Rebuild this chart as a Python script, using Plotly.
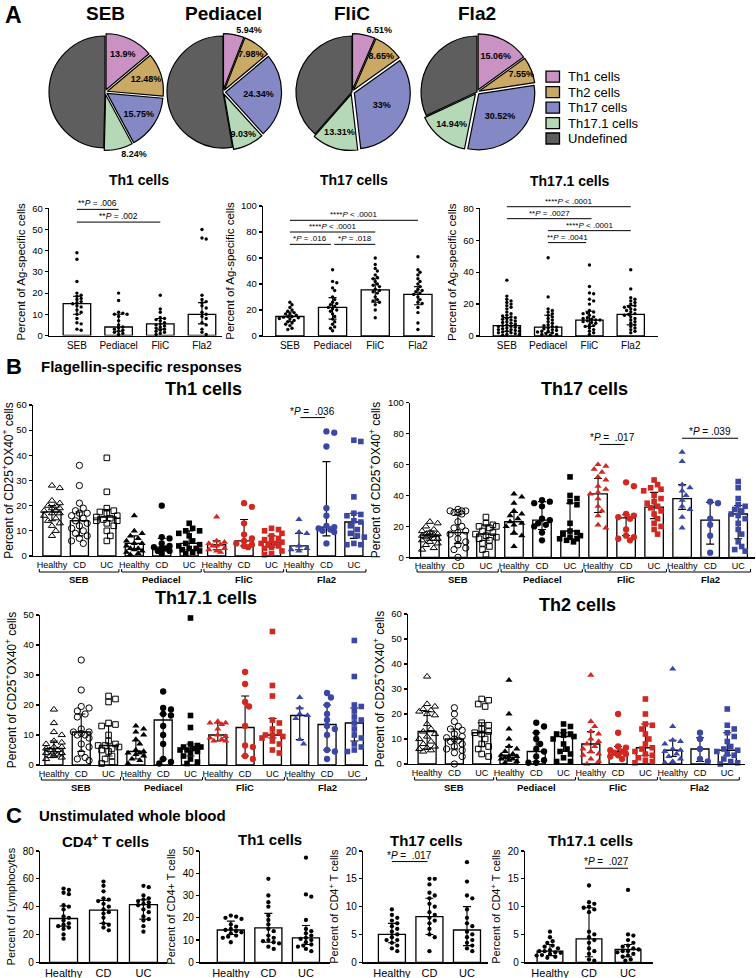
import numpy as np
import plotly.graph_objects as go

W, H = 756, 978
FONT = "Liberation Sans, Arial, Helvetica, sans-serif"

# ======================= DATA =======================
pie_stimuli = ["SEB", "Pediacel", "FliC", "Fla2"]
pie_subsets = ["Th1 cells", "Th2 cells", "Th17 cells", "Th17.1 cells", "Undefined"]
pie_seb = [13.9, 12.48, 15.75, 8.24, 49.63]
pie_pediacel = [5.94, 7.98, 24.34, 9.03, 52.71]
pie_flic = [6.51, 8.65, 33.0, 13.31, 38.53]
pie_fla2 = [15.06, 7.55, 30.52, 14.94, 31.93]
pie_text_seb = ["13.9%", "12.48%", "15.75%", "8.24%", ""]
pie_text_pediacel = ["5.94%", "7.98%", "24.34%", "9.03%", ""]
pie_text_flic = ["6.51%", "8.65%", "33%", "13.31%", ""]
pie_text_fla2 = ["15.06%", "7.55%", "30.52%", "14.94%", ""]

a_categories = ["SEB", "Pediacel", "FliC", "Fla2"]
a_th1_values = [
    [39, 36, 25.5, 20, 19, 18.5, 17.5, 17, 16, 15.5, 15, 14, 13.5, 12, 11, 10, 8, 6, 5.5, 3, 2.5],
    [20, 16.5, 11, 10.5, 10, 10, 9, 7, 5, 4, 3.5, 3, 2.5, 2, 1.5, 1, 0.5],
    [19, 12.5, 11, 8.5, 8, 7.5, 7, 6, 5.5, 5, 4.5, 4, 3.5, 3, 2.5, 2, 1.5, 1, 0.5],
    [50, 46, 45.5, 19, 17, 16, 15.5, 14, 13, 11, 10, 9, 8, 6, 5, 3, 1.5, 0.5],
]
a_th1_median = [15, 4, 5.5, 10]
a_th1_q1 = [10, 2, 3, 5.5]
a_th1_q3 = [18.5, 10, 8, 15.5]

a_th17_values = [
    [26, 24, 22, 20, 19, 18, 17, 17, 16, 15, 15, 14.5, 14, 13.5, 13, 12, 11, 10, 9, 8, 6, 5],
    [51, 42, 41, 37, 35, 30, 28, 26, 25, 24, 23, 22, 21, 20, 19, 17, 15, 13, 11, 9, 7, 6, 4],
    [60, 55, 52, 50, 47, 45, 44, 42, 40, 39, 38, 36, 35, 34, 33, 30, 28, 27, 26, 24, 20, 14],
    [61, 51, 49, 47, 44, 42, 40, 38, 36, 35, 34, 33, 32, 30, 28, 26, 25, 22, 18, 10, 5],
]
a_th17_median = [15, 22, 35.5, 32]
a_th17_q1 = [11, 13, 26, 24]
a_th17_q3 = [18.5, 29.5, 44, 38]

a_th171_values = [
    [35, 25, 23, 22, 21, 20, 19, 18, 17, 15, 14, 13, 12.5, 12, 11.5, 11, 10.5, 10, 9.5, 9, 8.5, 8,
     7.5, 7, 6.5, 6, 6, 5.5, 5, 5, 4.5, 4, 4, 3.5, 3, 3, 2.5, 2, 2, 1.5, 1, 1, 0.5],
    [49, 24.5, 17, 16, 15, 14, 13, 12, 11, 10, 9, 8, 7, 6.5, 6, 5.5, 5, 4.5, 4, 3.5, 3, 3, 2.5, 2,
     1.5, 1, 1, 0.5],
    [44.5, 31, 27, 26.5, 23, 22, 20, 16, 15, 14.5, 14, 13, 12, 11.5, 11, 10.5, 10, 10, 9.5, 9, 8.5,
     8, 7, 6.5, 6, 5, 4, 3, 2, 1],
    [41.5, 29.5, 24, 23, 22, 21, 20, 19, 18.5, 18, 17, 16.5, 16, 15, 14, 13.5, 13, 12, 11, 10, 9, 8,
     7, 6, 5, 4, 3, 2],
]
a_th171_median = [6.5, 5.5, 10, 13.5]
a_th171_q1 = [3, 2, 6, 7]
a_th171_q3 = [11.5, 13, 15.5, 19]

b_groups = ["Healthy", "CD", "UC"]
b_stimuli = ["SEB", "Pediacel", "FliC", "Fla2"]

b_th1_values = [
    [28, 27, 22, 21, 20, 20, 19, 19, 18, 18, 17, 17, 16, 15, 14, 13, 12, 10, 8],
    [36, 28, 21, 19, 18, 17, 17, 16, 15, 14, 13, 12, 11, 10, 9, 8, 7, 6, 5],
    [39, 25.5, 19, 18, 17.5, 17, 16, 15.5, 15, 14.5, 14, 14, 13, 12, 10, 8, 6],
    [16, 10, 9, 8, 7, 6, 5, 5, 4, 3, 3, 2.5, 2, 1.5, 1, 0.5],
    [20, 7.5, 7, 5, 4, 3.5, 3, 3, 2, 2, 1],
    [13, 11, 10, 10, 9, 8, 6, 5, 4.5, 4, 3, 3, 2.5, 2, 1.5, 1],
    [15.5, 6, 5.5, 5, 4.5, 4, 4, 3, 2.5, 2, 1.5],
    [21, 19.5, 13, 8.5, 7, 6, 5, 4.5, 4, 3.5],
    [11, 10.5, 10, 9, 8, 7, 6.5, 6, 5.5, 5, 5, 4.5, 4, 3.5, 3, 2, 1, 0.5],
    [14.5, 9.5, 9, 4, 3, 2.5, 2],
    [49.5, 49, 43.5, 19, 16, 12, 11.5, 11, 10.5, 10, 9.5, 5],
    [46, 45.5, 23.5, 17, 16.5, 16, 14, 13.5, 12, 10.5, 9, 8, 7.5, 5, 4.5, 4.5],
]
b_th1_median = [17.5, 14, 15.5, 5, 3.5, 5, 4.5, 6, 5.5, 4, 11.5, 13.5]
b_th1_q1 = [14, 8, 14, 2.5, 2, 2.5, 2.5, 4, 3.5, 2.5, 8, 7]
b_th1_q3 = [20, 17.5, 18.5, 8, 7, 10, 6, 14.5, 8, 9, 37.5, 17]

b_th17_values = [
    [23, 22, 20, 18, 17, 16, 15, 15, 14.5, 14, 14, 13, 12, 12, 11, 10, 9, 8, 6, 5],
    [31, 30, 30, 30, 29, 29, 28, 23, 20, 19, 17, 16, 15, 12, 10, 8, 6, 5, 0],
    [26, 22, 21, 20, 20, 19, 17, 16, 15, 14, 13, 12, 11, 9, 7, 5, 2],
    [41, 39, 35, 30, 28, 27, 25, 23, 22, 21, 20, 16, 14, 7],
    [37, 36, 35, 33, 25, 24, 22, 21, 20, 16, 11],
    [52, 40, 38, 36, 34, 22, 17, 16, 15, 14, 13, 12, 12, 11, 10],
    [60, 59, 57, 55, 52, 50, 46, 44, 42, 41, 38, 33, 30, 27, 21, 19],
    [48.5, 46, 28, 27, 26, 25, 18, 14, 13, 12, 11],
    [50, 47, 45, 44, 43, 40, 38, 36, 35, 33, 32, 30, 28, 25, 22, 20, 18, 15],
    [68, 62, 47, 45, 43, 40, 37, 33, 31, 26, 19],
    [36, 35, 25, 21, 14, 3],
    [49, 45, 38, 34, 33, 31, 30, 28, 27, 25, 22, 18, 15, 10, 7, 5, 4],
]
b_th17_median = [14.5, 16, 15, 23, 24, 17, 41, 25.5, 32.5, 38, 24, 28]
b_th17_q1 = [11, 9, 11, 15, 18, 12, 29, 14, 25, 31, 8.5, 12]
b_th17_q3 = [17, 27.5, 21, 29, 36, 35, 51, 27.5, 42, 47, 35.5, 33.5]

b_th171_values = [
    [18.5, 14, 11, 10, 8, 7.5, 7, 6, 6, 5.5, 5, 5, 4.5, 4, 4, 3.5, 3, 3, 2.5, 2],
    [35, 25, 19.5, 19, 18, 17, 16, 12, 11, 11, 10.5, 10, 10, 9, 7, 6, 4, 2.5, 2, 1.5],
    [23, 22, 21, 14, 13.5, 13, 10, 8, 7, 6.5, 6.5, 6, 5.5, 5, 4.5, 3, 2, 1, 0.5],
    [13, 12, 11, 10, 8.5, 7, 5, 4.5, 4, 4, 3.5, 3, 2, 1.5, 0.5],
    [24.5, 19, 18.5, 17, 16.5, 13, 10, 7, 2, 1, 0.5],
    [49, 16.5, 12.5, 7, 6.5, 6, 6, 5.5, 5, 5, 4.5, 4, 3, 2, 1, 0.5],
    [14.5, 14, 14, 13.5, 12, 10, 9.5, 9, 8.5, 8, 8],
    [31, 27, 21, 19.5, 13, 6.5, 6, 3, 2],
    [44.5, 26.5, 23, 15, 14, 12, 11, 10, 10, 9.5, 9, 8, 7, 5, 4],
    [22.5, 19, 17, 16.5, 15.5, 8.5, 7],
    [24, 22.5, 20, 17, 15, 13, 12, 10, 5, 4.5, 2],
    [41.5, 29.5, 20, 19.5, 18, 16, 15, 14, 12, 10, 9, 7, 6, 5, 4.5],
]
b_th171_median = [5.5, 11, 6.5, 4.5, 15, 5.5, 10, 12.5, 10, 16.5, 13.5, 14]
b_th171_q1 = [3, 4.5, 3, 2, 2, 3, 8, 3, 9, 8.5, 5, 8]
b_th171_q3 = [8, 17, 13, 8, 17, 7, 14, 23, 15.5, 19, 20, 19]

b_th2_values = [
    [35, 24, 23, 22, 21.5, 21, 20, 19.5, 16, 14, 13, 12, 11, 10, 9, 8, 7, 6.5, 6, 5.5, 5],
    [22.5, 20, 17, 15, 14, 13.5, 12, 11, 10.5, 10, 9.5, 9, 8, 7, 6, 5.5, 4.5, 3, 0],
    [26, 25.5, 24, 23, 16.5, 15.5, 14, 13, 12.5, 12, 10, 8, 7, 6, 4, 3],
    [33.5, 20, 14, 10, 7, 6, 5, 4, 3.5, 3, 3, 2.5, 2, 2, 1.5, 1, 0.5],
    [16.5, 15, 12.5, 10, 8, 6, 5, 3, 1.5, 0.5, 0.5],
    [16, 15, 13, 12, 12, 11.5, 11, 10, 8, 6, 5, 4, 2.5, 1, 1],
    [35.5, 17, 15, 13, 12, 10, 9, 8, 7, 6, 5, 4, 3.5, 2, 1, 0],
    [20, 12.5, 7, 6.5, 5.5, 5, 4.5, 4, 3.5, 3, 2],
    [26, 20, 16, 15.5, 14, 12, 10, 8, 6.5, 6, 5, 4, 3.5, 2.5, 1.5, 1, 0.5],
    [38, 15, 9.5, 9, 8, 6, 5.5, 5, 4, 3, 2, 1, 0.5],
    [12.5, 10, 6, 2, 1],
    [22, 15.5, 14, 12.5, 11, 9, 7, 6, 5.5, 5, 4, 3.5, 2, 1, 0.5, 0],
]
b_th2_median = [13, 10, 12.5, 3.5, 5, 11, 8, 5, 6.5, 5.5, 6, 5.5]
b_th2_q1 = [6, 6, 7, 2, 1, 5, 4.5, 4, 3.5, 3, 1, 3.5]
b_th2_q3 = [21, 14, 16.5, 7, 12.5, 12.5, 13, 7, 16, 9.5, 10.5, 12.5]

c_groups = ["Healthy", "CD", "UC"]
c_cd4_values = [
    [53, 52, 50, 49, 41, 40, 38, 33, 32, 30, 28, 27, 26, 25, 24, 20, 17],
    [58, 55, 51, 46, 45, 44, 42, 40, 38, 36, 35, 32, 28, 27, 25, 23],
    [55, 54, 48, 46, 45, 44, 43, 42, 41, 40, 38, 36, 33, 31, 30, 26, 22],
]
c_cd4_median = [31.5, 37.5, 41.5]
c_cd4_q1 = [26, 28, 31]
c_cd4_q3 = [40.5, 44.5, 45]

c_th1_values = [
    [21, 20.5, 20, 19.5, 17, 16, 15, 14.5, 14, 13.5, 13, 12, 11.5, 11, 9],
    [37.5, 30, 27, 25, 21, 19, 17, 15, 14, 12, 11, 10, 9.5, 9, 8.5, 7, 6],
    [47, 30.5, 29.5, 19, 15, 14, 13, 12, 11, 10.5, 10, 9, 8, 7.5, 7, 6, 5],
]
c_th1_median = [14.5, 15.5, 11]
c_th1_q1 = [12.5, 9, 8]
c_th1_q3 = [18.5, 22, 16.5]

c_th17_values = [
    [9.5, 8.5, 8, 7.5, 7, 6.5, 6, 5.5, 5, 4.5, 4, 4, 3.5, 3, 2.5, 2],
    [15, 15, 14, 12.5, 12, 11.5, 10.5, 10, 9, 8.5, 8, 7.5, 7, 6, 5, 4.5, 2],
    [18, 14.5, 12, 11.5, 9.5, 8, 7, 6.5, 5.5, 5, 4.5, 4, 3.5, 3, 2.5, 2],
]
c_th17_median = [5, 8.2, 5.8]
c_th17_q1 = [3.5, 5, 3]
c_th17_q3 = [7, 11.5, 10]

c_th171_values = [
    [5.5, 4.5, 3.8, 3.5, 3, 2.8, 2.5, 2.2, 2, 2, 1.8, 1.7, 1.5, 1.3, 1.2, 1, 0.8],
    [13.8, 10.8, 10.5, 10, 9.8, 9.5, 9, 5.5, 5, 4.5, 4, 3.5, 2.5, 2, 1.5, 0.5, 0.3],
    [13, 5, 4.8, 4, 3.5, 3, 2.8, 2.5, 2.3, 2, 2, 1.8, 1.5, 1.2, 1, 0.5, 0.3],
]
c_th171_median = [2, 4.2, 2.3]
c_th171_q1 = [1.2, 1, 1]
c_th171_q3 = [3.2, 9.8, 3.2]

# ======================= STYLE / LAYOUT =======================
pie_colors = ["#C992C3", "#C9A964", "#8489C5", "#B5D9B7", "#5E5E5E"]
RED = "#D3271F"
BLUE = "#3A47A6"

fig = go.Figure()
annotations = []
shapes = []
axes = {}


def ax_names(n):
    if n == 1:
        return "x", "y", "xaxis", "yaxis"
    return f"x{n}", f"y{n}", f"xaxis{n}", f"yaxis{n}"


def py(p):
    return 1 - p / H


def swarm(vals, center, ppu_y, ppu_x, msize, halfw):
    vals = np.asarray(vals, dtype=float)
    order = np.argsort(-vals, kind="stable")
    step = msize * 0.62
    cands = [0.0]
    for k in range(1, 40):
        cands += [k * step, -k * step]
    cands = [c for c in cands if abs(c) <= halfw]
    placed = []
    off = np.zeros(len(vals))
    mind = msize * 0.92
    for i in order:
        yp = vals[i] * ppu_y
        best, bestd, best2 = None, -1, 0.0
        for c in cands:
            d = min([np.hypot(c - a, yp - b) for a, b in placed] + [1e9])
            if d >= mind:
                best = c
                break
            if d > bestd:
                bestd, best2 = d, c
        if best is None:
            best = best2
        placed.append((best, yp))
        off[i] = best
    return center + off / ppu_x


def tick_style(size):
    return dict(size=size, family=FONT, color="black")


panels = {}


def add_panel(n, xdom, ydom, xrange, yrange, dtick, ytitle, ytitle_size, tick_size,
              xtick_size, centers, ticktext, values, med, q1, q3, bar_w, styles,
              halfw, err_w):
    xr, yr, xk, yk = ax_names(n)
    axes[xk] = dict(domain=[xdom[0] / W, xdom[1] / W], range=xrange, anchor=yr,
                    showline=True, linecolor="black", linewidth=1.2, ticks="",
                    tickvals=centers, ticktext=ticktext, tickfont=tick_style(xtick_size),
                    showgrid=False, zeroline=False, fixedrange=True, automargin=False)
    axes[yk] = dict(domain=[py(ydom[1]), py(ydom[0])], range=yrange, anchor=xr,
                    showline=True, linecolor="black", linewidth=1.2, ticks="outside",
                    ticklen=3, tickwidth=1.2, tickcolor="black", tick0=0, dtick=dtick,
                    tickfont=tick_style(tick_size), showgrid=False, zeroline=False,
                    title=dict(text=ytitle, font=dict(size=ytitle_size, family=FONT,
                                                      color="black"), standoff=4),
                    fixedrange=True, automargin=False)
    ppu_y = (ydom[1] - ydom[0]) / (yrange[1] - yrange[0])
    ppu_x = (xdom[1] - xdom[0]) / (xrange[1] - xrange[0])
    panels[n] = dict(xr=xr, ydom=ydom, yrange=yrange, ppu_y=ppu_y)
    med = np.asarray(med, float)
    fig.add_trace(go.Bar(
        x=centers, y=med, width=bar_w, xaxis=xr, yaxis=yr, showlegend=False,
        marker=dict(color="white", line=dict(color="black", width=1.3)),
        error_y=dict(type="data", symmetric=False, array=np.asarray(q3) - med,
                     arrayminus=med - np.asarray(q1), color="black", thickness=1.1,
                     width=err_w),
        hoverinfo="skip"))
    for i, vals in enumerate(values):
        st = styles[i]
        xs = swarm(vals, centers[i], ppu_y, ppu_x, st["size"], halfw)
        fig.add_trace(go.Scatter(
            x=xs, y=vals, mode="markers", xaxis=xr, yaxis=yr, showlegend=False,
            cliponaxis=False, hoverinfo="skip",
            marker=dict(symbol=st["symbol"], size=st["size"], color=st["color"],
                        line=dict(width=st.get("lw", 0), color=st["color"]))))


def val_to_px(n, v):
    p = panels[n]
    return p["ydom"][1] - (v - p["yrange"][0]) * p["ppu_y"]


def add_sig(n, x0, x1, v, text, fsize):
    p = panels[n]
    yy = py(val_to_px(n, v))
    shapes.append(dict(type="line", xref=p["xr"], yref="paper", x0=x0, x1=x1, y0=yy, y1=yy,
                       line=dict(color="black", width=1)))
    annotations.append(dict(xref=p["xr"], yref="paper", x=(x0 + x1) / 2, y=yy, text=text,
                            showarrow=False, xanchor="center", yanchor="bottom", yshift=-1,
                            font=dict(size=fsize, family=FONT, color="black")))


def add_brackets(n, ypx, label_ypx):
    p = panels[n]
    for g, name in enumerate(b_stimuli):
        xa, xb = 3 * g - 0.46, 3 * g + 2.44
        y0 = py(ypx)
        y1 = py(ypx - 3)
        shapes.append(dict(type="path", xref=p["xr"], yref="paper",
                           path=f"M {xa},{y1} L {xa},{y0} L {xb},{y0} L {xb},{y1}",
                           line=dict(color="black", width=1)))
        annotations.append(dict(xref=p["xr"], yref="paper", x=3 * g + 1, y=py(label_ypx),
                                text=f"<b>{name}</b>", showarrow=False, yanchor="middle",
                                font=dict(size=9.5, family=FONT, color="black")))


def text(x, y, t, size, anchor="center"):
    annotations.append(dict(xref="paper", yref="paper", x=x / W, y=py(y), text=t,
                            showarrow=False, xanchor=anchor, yanchor="middle",
                            font=dict(size=size, family=FONT, color="black")))


# ---------------- Pies ----------------
pie_vals = [pie_seb, pie_pediacel, pie_flic, pie_fla2]
pie_texts = [pie_text_seb, pie_text_pediacel, pie_text_flic, pie_text_fla2]
pie_pos = [["inside", "inside", "inside", "outside", "none"],
           ["outside", "inside", "inside", "inside", "none"],
           ["outside", "inside", "inside", "inside", "none"],
           ["inside", "inside", "inside", "inside", "none"]]
pie_cx = [105, 223, 352, 477]
pie_cy = 92
half = 58.5
for i in range(4):
    fig.add_trace(go.Pie(
        values=pie_vals[i], labels=pie_subsets, text=pie_texts[i], textinfo="text",
        textposition=pie_pos[i], sort=False, direction="clockwise", rotation=0,
        pull=[0.045, 0.045, 0.045, 0.045, 0],
        marker=dict(colors=pie_colors, line=dict(color="black", width=1.2)),
        textfont=dict(size=9, family=FONT, color="black", weight="bold"),
        insidetextorientation="horizontal", showlegend=False, hoverinfo="skip",
        domain=dict(x=[(pie_cx[i] - half) / W, (pie_cx[i] + half) / W],
                    y=[py(pie_cy + half), py(pie_cy - half)])))
    text(pie_cx[i], 14, f"<b>{pie_stimuli[i]}</b>", 19)

# key for the pie subsets (boxes + labels)
legend_y = [76.7, 92.2, 107.7, 123.2, 138.5]
for k, name in enumerate(pie_subsets):
    shapes.append(dict(type="rect", xref="paper", yref="paper",
                       x0=546 / W, x1=559.5 / W, y0=py(legend_y[k] + 5.5),
                       y1=py(legend_y[k] - 5.5), fillcolor=pie_colors[k],
                       line=dict(color="black", width=1.3)))
    text(566, legend_y[k], name, 13, anchor="left")

# ---------------- Panel A bar plots ----------------
a_style = [dict(symbol="circle", size=3.4, color="black")] * 4
a_centers = [0, 1, 2, 3]
add_panel(1, (49, 222), (208.3, 335.5), [-0.67, 3.48], [0, 60], 10,
          "Percent of Ag-specific cells", 11.5, 9.5, 10, a_centers, a_categories,
          a_th1_values, a_th1_median, a_th1_q1, a_th1_q3, 0.66, a_style, 12, 4)
add_panel(2, (263, 435), (206, 336), [-0.63, 3.4], [0, 100], 20,
          "Percent of Ag-specific cells", 11.5, 9.5, 10, a_centers, a_categories,
          a_th17_values, a_th17_median, a_th17_q1, a_th17_q3, 0.66, a_style, 12, 4)
add_panel(3, (480, 658), (208.3, 336), [-0.65, 3.66], [0, 80], 20,
          "Percent of Ag-specific cells", 11.5, 9.5, 10, a_centers, a_categories,
          a_th171_values, a_th171_median, a_th171_q1, a_th171_q3, 0.66, a_style, 13, 4)

add_sig(1, 0, 1, 59.5, "**<i>P</i> = .006", 8.5)
add_sig(1, 0, 2, 53.5, "**<i>P</i> = .002", 8.5)
add_sig(2, 0, 3, 89, "****<i>P</i> < .0001", 8)
add_sig(2, 0, 2, 80, "****<i>P</i> < .0001", 8)
add_sig(2, 0, 0.96, 70.5, "*<i>P</i> = .016", 8)
add_sig(2, 1.04, 2, 70.5, "*<i>P</i> = .018", 8)
add_sig(3, 0, 3, 81, "****<i>P</i> < .0001", 8)
add_sig(3, 0, 2.05, 73.5, "**<i>P</i> = .0027", 8)
add_sig(3, 1, 3, 66, "****<i>P</i> < .0001", 8)
add_sig(3, 1, 1.92, 58.5, "**<i>P</i> = .0041", 8)

text(139, 180, "<b>Th1 cells</b>", 14)
text(354, 180, "<b>Th17 cells</b>", 14)
text(570, 181, "<b>Th17.1 cells</b>", 14)

# ---------------- Panel B ----------------
b_centers = list(range(12))
b_ticktext = b_groups * 4
b_styles = []
for s in range(4):
    for g, sym in enumerate(["triangle-up", "circle", "square"]):
        size = 6.3 if sym != "square" else 5.6
        if s == 0:
            b_styles.append(dict(symbol=sym + "-open", size=size, color="black", lw=1))
        else:
            col = ["black", RED, BLUE][s - 1]
            b_styles.append(dict(symbol=sym, size=size, color=col, lw=0))
ytb = "Percent of CD25<sup>+</sup>OX40<sup>+</sup> cells"
add_panel(4, (33, 372), (405, 556), [-0.69, 11.66], [0, 60], 10, ytb, 12, 9.5, 9,
          b_centers, b_ticktext, b_th1_values, b_th1_median, b_th1_q1, b_th1_q3, 0.66,
          b_styles, 11, 4)
add_panel(5, (410, 755), (402.7, 557.3), [-0.71, 11.6], [0, 100], 20, ytb, 12, 9.5, 9,
          b_centers, b_ticktext, b_th17_values, b_th17_median, b_th17_q1, b_th17_q3, 0.66,
          b_styles, 11, 4)
add_panel(6, (40, 368), (615, 765), [-0.51, 11.5], [0, 50], 10, ytb, 12, 9.5, 9,
          b_centers, b_ticktext, b_th171_values, b_th171_median, b_th171_q1, b_th171_q3,
          0.66, b_styles, 11, 4)
add_panel(7, (408, 745), (614, 764), [-0.7, 11.65], [0, 60], 10, ytb, 12, 9.5, 9,
          b_centers, b_ticktext, b_th2_values, b_th2_median, b_th2_q1, b_th2_q3, 0.66,
          b_styles, 11, 4)
add_brackets(4, 572, 579)
add_brackets(5, 572, 579)
add_brackets(6, 780, 787)
add_brackets(7, 780, 787)
add_sig(4, 9.05, 9.95, 55, "*<i>P</i> =  .036", 10)
add_sig(5, 6.05, 6.95, 73, "*<i>P</i> =  .017", 10)
add_sig(5, 9, 11, 77, "*<i>P</i> = .039", 10)

text(13.5, 366.5, "<b>B</b>", 22)
text(39, 366, "<b>Flagellin-specific responses</b>", 15, anchor="left")
text(203, 389, "<b>Th1 cells</b>", 18)
text(584, 389, "<b>Th17 cells</b>", 18)
text(206, 598, "<b>Th17.1 cells</b>", 18)
text(577, 605, "<b>Th2 cells</b>", 18)

# ---------------- Panel C ----------------
c_style = [dict(symbol="circle", size=4.3, color="black")] * 3
c_centers = [0, 1, 2]
add_panel(8, (40, 167), (851, 962.3), [-0.59, 2.59], [0, 80], 20, "Percent of Lymphocytes",
          11, 10, 11, c_centers, c_groups, c_cd4_values, c_cd4_median, c_cd4_q1, c_cd4_q3,
          0.7, c_style, 14, 4)
add_panel(9, (200, 330), (851, 962.3), [-0.82, 2.64], [0, 50], 10, "Percent of CD4+ T cells",
          11, 10, 11, c_centers, c_groups, c_th1_values, c_th1_median, c_th1_q1, c_th1_q3,
          0.72, c_style, 14, 4)
add_panel(10, (363, 488), (851, 962.3), [-0.77, 2.56], [0, 20], 5,
          "Percent of CD4<sup>+</sup> T cells", 11, 10, 11, c_centers, c_groups,
          c_th17_values, c_th17_median, c_th17_q1, c_th17_q3, 0.72, c_style, 14, 4)
add_panel(11, (525, 653), (851, 962.3), [-0.64, 2.64], [0, 20], 5,
          "Percent of CD4<sup>+</sup> T cells", 11, 10, 11, c_centers, c_groups,
          c_th171_values, c_th171_median, c_th171_q1, c_th171_q3, 0.66, c_style, 14, 4)
add_sig(10, 0, 0.95, 18.1, "*<i>P</i> =  .017", 10)
add_sig(11, 0.9, 2, 16.9, "*<i>P</i> =  .027", 10)

text(14, 815, "<b>C</b>", 22)
text(37, 815.5, "<b>Unstimulated whole blood</b>", 15, anchor="left")
text(105, 840, "<b>CD4<sup>+</sup> T cells</b>", 15)
text(270, 839, "<b>Th1 cells</b>", 15)
text(426, 840, "<b>Th17 cells</b>", 15)
text(590, 840, "<b>Th17.1 cells</b>", 15)

text(13.5, 15.5, "<b>A</b>", 23)

fig.update_layout(
    width=W, height=H, autosize=False,
    margin=dict(l=0, r=0, t=0, b=0, autoexpand=False),
    paper_bgcolor="white", plot_bgcolor="white",
    font=dict(family=FONT, color="black"),
    annotations=annotations, shapes=shapes,
    bargap=0, showlegend=False,
    uniformtext=dict(minsize=9, mode="show"),
    **axes,
)

fig.write_html(
    "out.html",
    config={"displayModeBar": False, "staticPlot": True},
    post_script=("document.documentElement.style.margin='0';"
                 "document.body.style.margin='0';document.body.style.padding='0';"
                 "document.body.style.overflow='hidden';"),
)
